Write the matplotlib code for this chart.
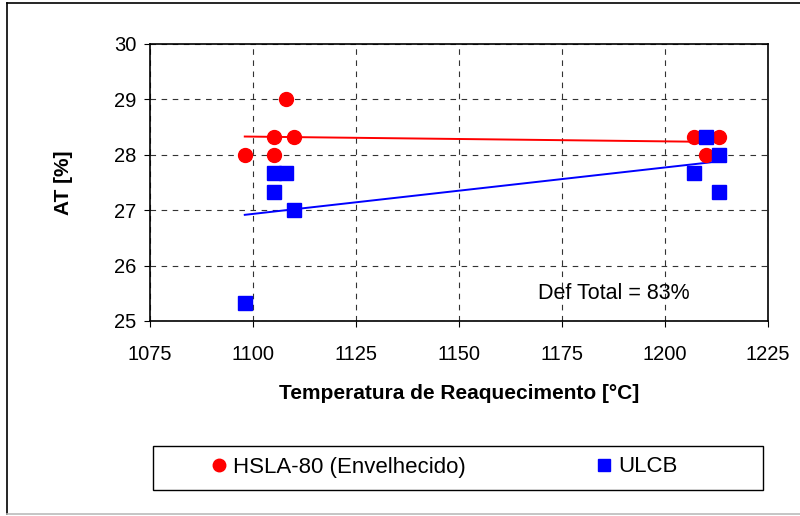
import numpy as np
import matplotlib
matplotlib.use("Agg")
import matplotlib.pyplot as plt
from matplotlib.lines import Line2D
from matplotlib.patches import Rectangle

plt.rcParams["font.family"] = ["Liberation Sans", "DejaVu Sans"]

# HSLA-80 (Envelhecido)
hsla_temp = [1098, 1105, 1105, 1108, 1110, 1207, 1210, 1213]
hsla_at = [28.0, 28.0, 28.33, 29.0, 28.33, 28.33, 28.0, 28.33]

# ULCB
ulcb_temp = [1098, 1105, 1108, 1105, 1110, 1210, 1213, 1207, 1213]
ulcb_at = [25.33, 27.67, 27.67, 27.33, 27.0, 28.33, 28.0, 27.67, 27.33]

x_ticks = [1075, 1100, 1125, 1150, 1175, 1200, 1225]
y_ticks = [25, 26, 27, 28, 29, 30]

RED = "#ff0000"
BLUE = "#0000ff"

fig = plt.figure(figsize=(8, 5.16), dpi=100)
ax = fig.add_axes([150 / 800, 1 - 321 / 516, 618 / 800, 277 / 516])

# trend lines (linear fit over each series' range)
for xs, ys, col in [(hsla_temp, hsla_at, RED), (ulcb_temp, ulcb_at, BLUE)]:
    xs = np.asarray(xs, float)
    ys = np.asarray(ys, float)
    k, b = np.polyfit(xs, ys, 1)
    xl = np.array([xs.min(), xs.max()])
    ax.plot(xl, k * xl + b, color=col, lw=1.4, zorder=3)

ax.plot(hsla_temp, hsla_at, "o", color=RED, ms=10, mec=RED, ls="none",
        zorder=4, label="HSLA-80 (Envelhecido)")
ax.plot(ulcb_temp, ulcb_at, "s", color=BLUE, ms=9.5, mec=BLUE, ls="none",
        zorder=5, label="ULCB")

ax.set_xlim(1075, 1225)
ax.set_ylim(25, 30)
ax.set_xticks(x_ticks)
ax.set_yticks(y_ticks)
ax.grid(True, color="#333333", ls=(0, (5, 5)), lw=0.8)
ax.set_axisbelow(True)
ax.tick_params(direction="out", length=4, width=0.8, labelsize=14.5)
ax.tick_params(axis="x", pad=13)
ax.tick_params(axis="y", pad=6)
for s in ax.spines.values():
    s.set_linewidth(1.2)

ax.set_xlabel("Temperatura de Reaquecimento [°C]", fontsize=15, fontweight="bold",
              labelpad=15)
ax.set_ylabel("AT [%]", fontsize=15, fontweight="bold", labelpad=29)

ax.text(1169.2, 25.5, "Def Total = 83%", fontsize=15.5, va="center", ha="left")

# legend
handles, labels = ax.get_legend_handles_labels()
fig.legend(handles, labels, loc="center", bbox_to_anchor=(445 / 800, 1 - 467 / 516),
           ncol=2, frameon=False, fontsize=16, handlelength=0.65,
           handletextpad=0.3, columnspacing=5.9, markerscale=0.9)
fig.add_artist(Rectangle((153 / 800, 1 - 490 / 516), 610 / 800, 44 / 516,
                         transform=fig.transFigure, fill=False, ec="black", lw=1))

# outer frame
fig.add_artist(Line2D([7 / 800, 7 / 800], [1 - 3 / 516, 1 - 514 / 516],
                      transform=fig.transFigure, color="black", lw=1.2))
fig.add_artist(Line2D([7 / 800, 1], [1 - 3 / 516, 1 - 3 / 516],
                      transform=fig.transFigure, color="black", lw=1.2))
fig.add_artist(Line2D([7 / 800, 1], [1 - 514 / 516, 1 - 514 / 516],
                      transform=fig.transFigure, color="#bbbbbb", lw=1.2))

fig.savefig("out.png", dpi=100)
